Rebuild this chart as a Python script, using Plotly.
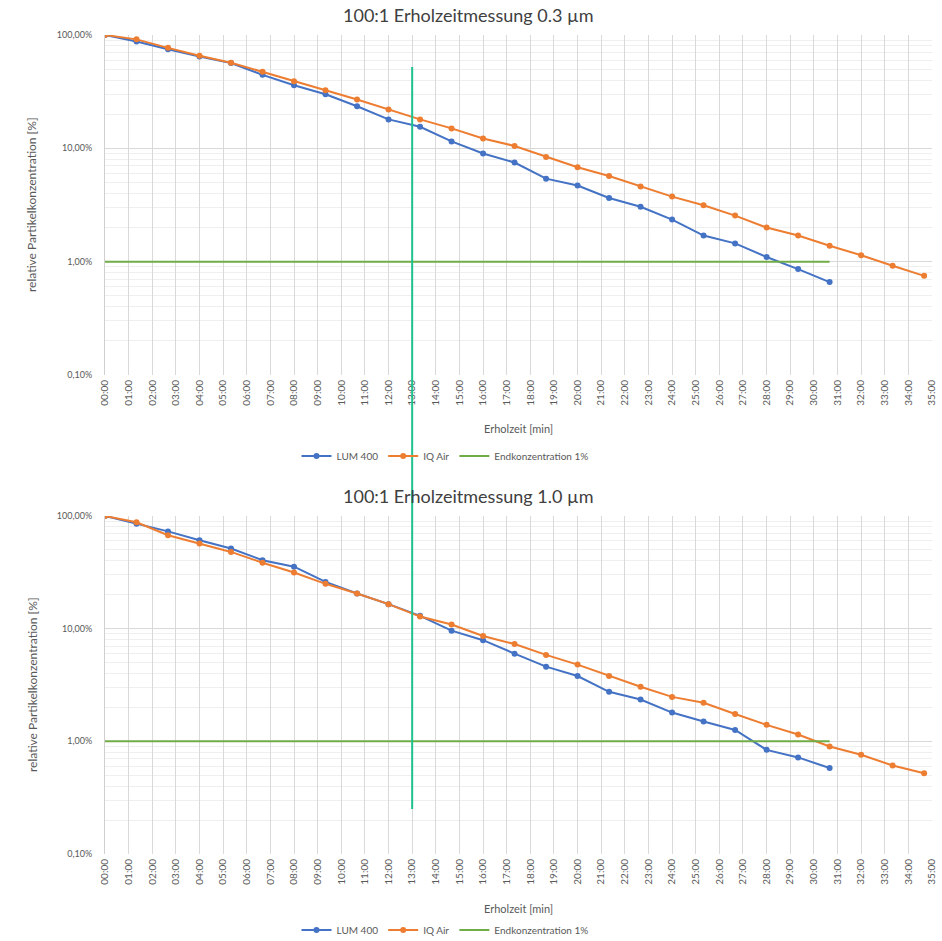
import plotly.graph_objects as go

# ---------------- data ----------------
# measurement times in seconds (every 80 s)
t_iq_s = [0, 80, 160, 240, 320, 400, 480, 560, 640, 720, 800, 880, 960, 1040,
          1120, 1200, 1280, 1360, 1440, 1520, 1600, 1680, 1760, 1840, 1920, 2000, 2080]
t_lum_s = t_iq_s[:24]
t_end_s = [0, 1840]

# 0.3 µm
lum_03 = [100, 87.5, 75, 64.5, 56.5, 44.5, 36, 30, 23.5, 18, 15.5, 11.5, 9.0, 7.5,
          5.4, 4.7, 3.65, 3.05, 2.35, 1.7, 1.45, 1.1, 0.86, 0.66]
iq_03 = [100, 91.5, 77, 65.5, 57, 47.5, 39, 32.5, 27, 22, 18, 15, 12.2, 10.5,
         8.4, 6.8, 5.7, 4.6, 3.75, 3.15, 2.55, 2.0, 1.7, 1.38, 1.14, 0.92, 0.75]

# 1.0 µm
lum_10 = [100, 85.5, 73, 61, 51.5, 40.5, 35.5, 26, 20.5, 16.5, 13, 9.6, 7.9, 6.0,
          4.6, 3.8, 2.75, 2.35, 1.8, 1.5, 1.26, 0.84, 0.72, 0.58]
iq_10 = [100, 88, 67.5, 57, 48, 38.5, 31.5, 25, 20.5, 16.5, 12.8, 10.9, 8.6, 7.3,
         5.85, 4.8, 3.8, 3.05, 2.48, 2.2, 1.75, 1.4, 1.15, 0.9, 0.76, 0.61, 0.52]

endkonz = [1, 1]
marker_time_min = 13

x_tickvals = list(range(0, 36))
x_ticktext = ["00:00", "01:00", "02:00", "03:00", "04:00", "05:00", "06:00", "07:00",
              "08:00", "09:00", "10:00", "11:00", "12:00", "13:00", "14:00", "15:00",
              "16:00", "17:00", "18:00", "19:00", "20:00", "21:00", "22:00", "23:00",
              "24:00", "25:00", "26:00", "27:00", "28:00", "29:00", "30:00", "31:00",
              "32:00", "33:00", "34:00", "35:00"]
y_tickvals = [0.1, 1, 10, 100]
y_ticktext = ["0,10%", "1,00%", "10,00%", "100,00%"]
y_minor = [0.2, 0.3, 0.4, 0.5, 0.6, 0.7, 0.8, 0.9, 2, 3, 4, 5, 6, 7, 8, 9,
           20, 30, 40, 50, 60, 70, 80, 90]

titles = ["100:1 Erholzeitmessung 0.3 µm", "100:1 Erholzeitmessung 1.0 µm"]
x_title = "Erholzeit [min]"
y_title = "relative Partikelkonzentration [%]"
names = ["LUM 400", "IQ Air", "Endkonzentration 1%"]

# ---------------- styling ----------------
W, H = 942, 941
BLUE, ORANGE, GREEN = "#4472C4", "#ED7D31", "#70AD47"
VLINE = "#1DC28E"
FONT = "Lato"
TXT = "#595959"


def mins(sec):
    return [s / 60 for s in sec]


def py(px):  # pixel row -> paper y
    return 1 - px / H


def pxx(px):
    return px / W


fig = go.Figure()

panels = [
    dict(lum=lum_03, iq=iq_03, xa="x", ya="y", legend="legend"),
    dict(lum=lum_10, iq=iq_10, xa="x2", ya="y2", legend="legend2"),
]
for p in panels:
    fig.add_trace(go.Scatter(x=mins(t_lum_s), y=p["lum"], name=names[0], mode="lines+markers",
                             line=dict(color=BLUE, width=2), marker=dict(color=BLUE, size=6),
                             xaxis=p["xa"], yaxis=p["ya"], legend=p["legend"]))
    fig.add_trace(go.Scatter(x=mins(t_iq_s), y=p["iq"], name=names[1], mode="lines+markers",
                             line=dict(color=ORANGE, width=2), marker=dict(color=ORANGE, size=6),
                             xaxis=p["xa"], yaxis=p["ya"], legend=p["legend"]))
    fig.add_trace(go.Scatter(x=mins(t_end_s), y=endkonz, name=names[2], mode="lines",
                             line=dict(color=GREEN, width=2),
                             xaxis=p["xa"], yaxis=p["ya"], legend=p["legend"]))

xdom = [pxx(105), pxx(932)]
ydom_top = [py(375), py(35)]
ydom_bot = [py(854), py(516)]

xaxis_common = dict(range=[0, 35], tickmode="array", tickvals=x_tickvals, ticktext=x_ticktext,
                    tickangle=-90, showgrid=True, gridcolor="#d9d9d9", gridwidth=1,
                    zeroline=False, showline=False, ticks="", automargin=False,
                    ticklabelstandoff=2,
                    tickfont=dict(family=FONT, size=10, color=TXT), domain=xdom)
yaxis_common = dict(type="log", range=[-1, 2], tickmode="array", tickvals=y_tickvals,
                    ticktext=y_ticktext, showgrid=True, gridcolor="#d9d9d9", gridwidth=1,
                    zeroline=False, showline=True, linecolor="#d0d0d0", ticks="",
                    automargin=False, ticklabelstandoff=10,
                    minor=dict(tickmode="array", tickvals=y_minor, showgrid=True,
                               gridcolor="#efefef", gridwidth=1, ticks=""),
                    tickfont=dict(family=FONT, size=9, color=TXT))

legend_common = dict(orientation="h", x=pxx(445), xanchor="center", yanchor="middle",
                     font=dict(family=FONT, size=10, color=TXT), bgcolor="rgba(0,0,0,0)",
                     itemwidth=30, tracegroupgap=0)

fig.update_layout(
    width=W, height=H, margin=dict(l=0, r=0, t=0, b=0, autoexpand=False),
    paper_bgcolor="white", plot_bgcolor="white",
    font=dict(family=FONT, color=TXT),
    xaxis=dict(**xaxis_common, anchor="y"),
    yaxis=dict(**yaxis_common, domain=ydom_top, anchor="x"),
    xaxis2=dict(**xaxis_common, anchor="y2"),
    yaxis2=dict(**yaxis_common, domain=ydom_bot, anchor="x2"),
    legend=dict(**legend_common, y=py(456)),
    legend2=dict(**legend_common, y=py(930)),
    showlegend=True,
)

annotations = []
for title, ty, xt_y, yt_y in [(titles[0], 15, 428, 205), (titles[1], 496, 908, 685)]:
    annotations.append(dict(text=title, x=pxx(468), y=py(ty), xref="paper", yref="paper",
                            showarrow=False, xanchor="center", yanchor="middle",
                            font=dict(family=FONT, size=18, color="#404040")))
    annotations.append(dict(text=x_title, x=pxx(518), y=py(xt_y), xref="paper", yref="paper",
                            showarrow=False, xanchor="center", yanchor="middle",
                            font=dict(family=FONT, size=11, color=TXT)))
    annotations.append(dict(text=y_title, x=pxx(32), y=py(yt_y), xref="paper", yref="paper",
                            showarrow=False, xanchor="center", yanchor="middle", textangle=-90,
                            font=dict(family=FONT, size=12, color=TXT)))
fig.update_layout(annotations=annotations)

fig.add_shape(type="line", xref="x", yref="paper", x0=marker_time_min, x1=marker_time_min,
              y0=py(809), y1=py(67), line=dict(color=VLINE, width=2))

fig.write_html("out.html", config={"displayModeBar": False},
               post_script="document.body.style.margin='0';document.body.style.overflow='hidden';")
